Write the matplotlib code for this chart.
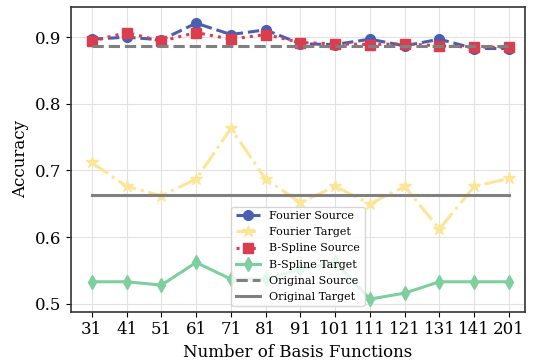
import matplotlib
matplotlib.use('Agg')
import matplotlib.pyplot as plt
import numpy as np

plt.rcParams['font.family'] = 'DejaVu Serif'

basis = ['31', '41', '51', '61', '71', '81', '91', '101', '111', '121', '131', '141', '201']
fourier_source = [0.897, 0.900, 0.896, 0.921, 0.904, 0.911, 0.890, 0.889, 0.897, 0.887, 0.897, 0.883, 0.883]
fourier_target = [0.712, 0.676, 0.662, 0.687, 0.763, 0.687, 0.652, 0.676, 0.650, 0.676, 0.612, 0.676, 0.688]
bspline_source = [0.894, 0.907, 0.894, 0.907, 0.897, 0.904, 0.892, 0.890, 0.889, 0.890, 0.887, 0.885, 0.885]
bspline_target = [0.533, 0.533, 0.528, 0.562, 0.537, 0.537, 0.552, 0.562, 0.507, 0.516, 0.533, 0.533, 0.533]
original_source = 0.887
original_target = 0.663

x = np.arange(len(basis))

fig = plt.figure(figsize=(5.34, 3.6), dpi=100)
ax = fig.add_axes([0.133, 0.134, 0.85, 0.846])

ax.plot(x, fourier_source, color='#4a5fae', linestyle='--', marker='o', linewidth=2.2, markersize=7, label='Fourier Source')
ax.plot(x, fourier_target, color='#fde597', linestyle='-.', marker='*', linewidth=2.2, markersize=9, label='Fourier Target')
ax.plot(x, bspline_source, color='#da3d4e', linestyle=':', marker='s', linewidth=2.2, markersize=7, label='B-Spline Source')
ax.plot(x, bspline_target, color='#7dcf9d', linestyle='-', marker='d', linewidth=2.2, markersize=7.5, label='B-Spline Target')
ax.plot(x, [original_source] * len(x), color='#808080', linestyle='--', linewidth=2.2, label='Original Source')
ax.plot(x, [original_target] * len(x), color='#808080', linestyle='-', linewidth=2.2, label='Original Target')

ax.set_xticks(x)
ax.set_xticklabels(basis, fontsize=12)
ax.tick_params(axis='y', labelsize=12)
ax.set_yticks([0.5, 0.6, 0.7, 0.8, 0.9])
ax.set_xlim(-0.6, 12.46)
ax.set_ylim(0.488, 0.945)
ax.set_xlabel('Number of Basis Functions', fontsize=12)
ax.set_ylabel('Accuracy', fontsize=12)
ax.grid(True, color='#e2e2e2', linewidth=0.8)
for s in ax.spines.values():
    s.set_color('#333333')
    s.set_linewidth(1.2)

ax.legend(loc='lower center', fontsize=8, framealpha=0.8, handlelength=2.2,
          labelspacing=0.55, borderpad=0.4)

fig.savefig('out.png', dpi=100)
